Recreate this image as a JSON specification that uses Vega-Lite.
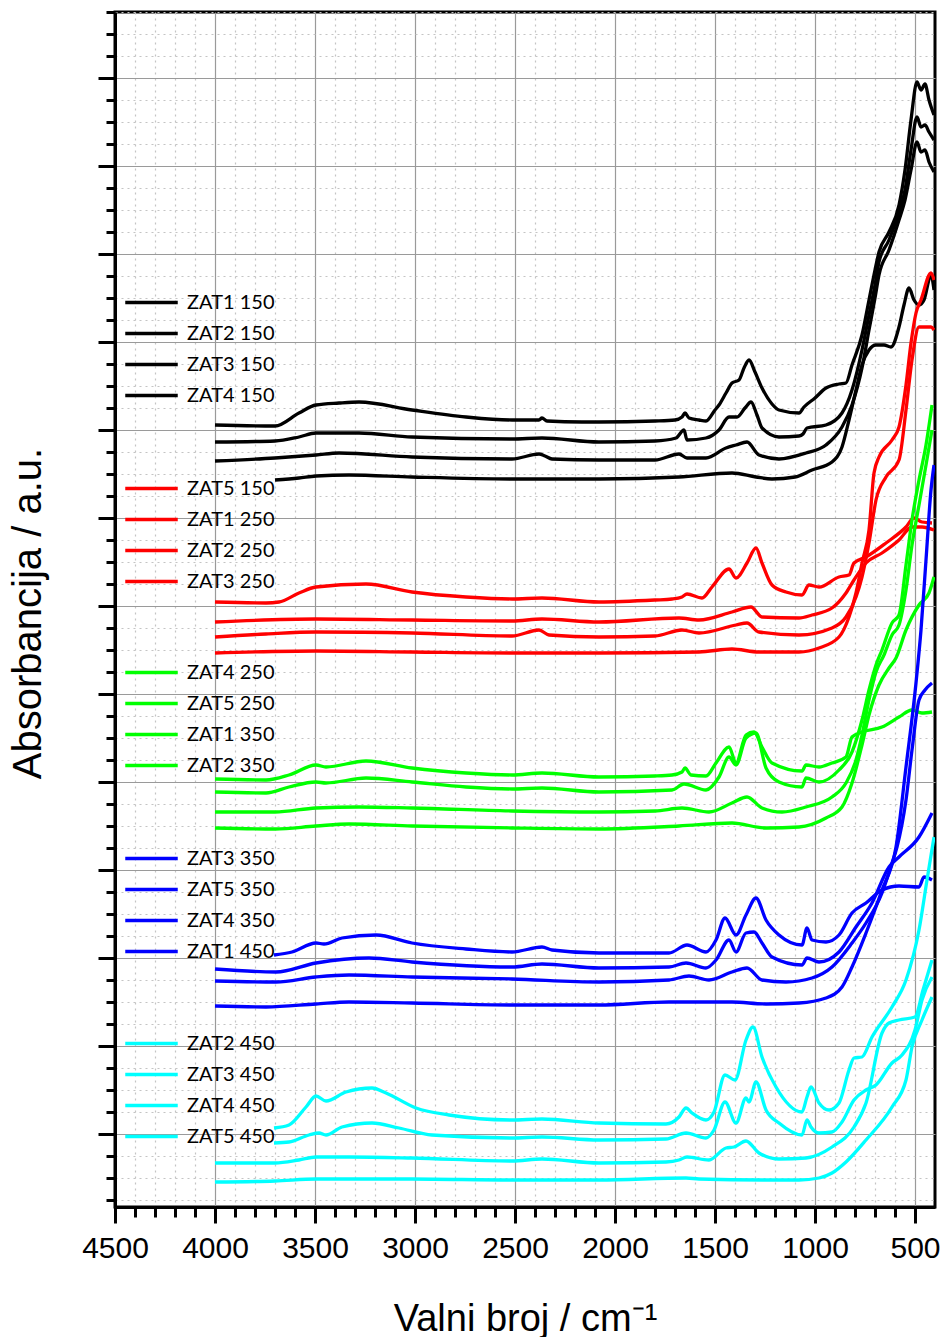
{
"$schema": "https://vega.github.io/schema/vega-lite/v6.json",
"width": 820, "height": 1195,
"autosize": {"type": "none"},
"padding": {"left": 115, "top": 12, "right": 11, "bottom": 130},
"background": "white",
"config": {
  "view": {"stroke": "black", "strokeWidth": 3},
  "font": "Liberation Sans",
  "legend": {"orient": "none", "title": null, "symbolType": "M-2.5,0H2.5", "symbolSize": 441, "symbolStrokeWidth": 3.5, "labelFont": "Lato", "labelFontSize": 20, "labelColor": "black", "rowPadding": 8, "labelOffset": 23, "padding": 0, "legendX": 24}
},
"data": {"values": [
{"s":"ZAT1 150","x":4000,"y":782},{"s":"ZAT1 150","x":3700,"y":781},{"s":"ZAT1 150","x":3580,"y":794},{"s":"ZAT1 150","x":3495,"y":802},{"s":"ZAT1 150","x":3380,"y":804},{"s":"ZAT1 150","x":3280,"y":805},{"s":"ZAT1 150","x":3015,"y":797},{"s":"ZAT1 150","x":2745,"y":790},{"s":"ZAT1 150","x":2515,"y":787},{"s":"ZAT1 150","x":2380,"y":787},{"s":"ZAT1 150","x":2365,"y":789},{"s":"ZAT1 150","x":2340,"y":786},{"s":"ZAT1 150","x":2165,"y":785},{"s":"ZAT1 150","x":2080,"y":785},{"s":"ZAT1 150","x":1800,"y":786},{"s":"ZAT1 150","x":1700,"y":787},{"s":"ZAT1 150","x":1665,"y":790},{"s":"ZAT1 150","x":1650,"y":794},{"s":"ZAT1 150","x":1630,"y":789},{"s":"ZAT1 150","x":1580,"y":787},{"s":"ZAT1 150","x":1545,"y":786},{"s":"ZAT1 150","x":1500,"y":797},{"s":"ZAT1 150","x":1480,"y":802},{"s":"ZAT1 150","x":1445,"y":814},{"s":"ZAT1 150","x":1415,"y":824},{"s":"ZAT1 150","x":1380,"y":827},{"s":"ZAT1 150","x":1355,"y":839},{"s":"ZAT1 150","x":1330,"y":847},{"s":"ZAT1 150","x":1300,"y":835},{"s":"ZAT1 150","x":1265,"y":819},{"s":"ZAT1 150","x":1215,"y":803},{"s":"ZAT1 150","x":1180,"y":797},{"s":"ZAT1 150","x":1080,"y":794},{"s":"ZAT1 150","x":1055,"y":800},{"s":"ZAT1 150","x":1000,"y":809},{"s":"ZAT1 150","x":945,"y":819},{"s":"ZAT1 150","x":880,"y":823},{"s":"ZAT1 150","x":845,"y":824},{"s":"ZAT1 150","x":815,"y":842},{"s":"ZAT1 150","x":765,"y":872},{"s":"ZAT1 150","x":730,"y":907},{"s":"ZAT1 150","x":700,"y":937},{"s":"ZAT1 150","x":680,"y":955},{"s":"ZAT1 150","x":630,"y":975},{"s":"ZAT1 150","x":580,"y":1002},{"s":"ZAT1 150","x":550,"y":1037},{"s":"ZAT1 150","x":520,"y":1087},{"s":"ZAT1 150","x":490,"y":1125},{"s":"ZAT1 150","x":470,"y":1117},{"s":"ZAT1 150","x":450,"y":1123},{"s":"ZAT1 150","x":430,"y":1107},{"s":"ZAT1 150","x":405,"y":1092},
{"s":"ZAT2 150","x":4000,"y":765},{"s":"ZAT2 150","x":3700,"y":766},{"s":"ZAT2 150","x":3580,"y":770},{"s":"ZAT2 150","x":3495,"y":774},{"s":"ZAT2 150","x":3280,"y":774},{"s":"ZAT2 150","x":3015,"y":770},{"s":"ZAT2 150","x":2515,"y":768},{"s":"ZAT2 150","x":2365,"y":769},{"s":"ZAT2 150","x":2080,"y":765},{"s":"ZAT2 150","x":1800,"y":766},{"s":"ZAT2 150","x":1695,"y":769},{"s":"ZAT2 150","x":1655,"y":777},{"s":"ZAT2 150","x":1640,"y":767},{"s":"ZAT2 150","x":1545,"y":769},{"s":"ZAT2 150","x":1480,"y":777},{"s":"ZAT2 150","x":1430,"y":790},{"s":"ZAT2 150","x":1390,"y":790},{"s":"ZAT2 150","x":1350,"y":799},{"s":"ZAT2 150","x":1320,"y":805},{"s":"ZAT2 150","x":1290,"y":792},{"s":"ZAT2 150","x":1265,"y":779},{"s":"ZAT2 150","x":1180,"y":770},{"s":"ZAT2 150","x":1080,"y":771},{"s":"ZAT2 150","x":1060,"y":773},{"s":"ZAT2 150","x":1040,"y":779},{"s":"ZAT2 150","x":945,"y":782},{"s":"ZAT2 150","x":865,"y":794},{"s":"ZAT2 150","x":815,"y":817},{"s":"ZAT2 150","x":765,"y":857},{"s":"ZAT2 150","x":730,"y":892},{"s":"ZAT2 150","x":700,"y":922},{"s":"ZAT2 150","x":680,"y":945},{"s":"ZAT2 150","x":630,"y":967},{"s":"ZAT2 150","x":580,"y":995},{"s":"ZAT2 150","x":550,"y":1017},{"s":"ZAT2 150","x":520,"y":1057},{"s":"ZAT2 150","x":490,"y":1090},{"s":"ZAT2 150","x":470,"y":1080},{"s":"ZAT2 150","x":450,"y":1082},{"s":"ZAT2 150","x":430,"y":1075},{"s":"ZAT2 150","x":405,"y":1067},
{"s":"ZAT3 150","x":4000,"y":746},{"s":"ZAT3 150","x":3700,"y":749},{"s":"ZAT3 150","x":3495,"y":752},{"s":"ZAT3 150","x":3380,"y":754},{"s":"ZAT3 150","x":3015,"y":750},{"s":"ZAT3 150","x":2515,"y":748},{"s":"ZAT3 150","x":2380,"y":753},{"s":"ZAT3 150","x":2350,"y":751},{"s":"ZAT3 150","x":2315,"y":748},{"s":"ZAT3 150","x":2080,"y":747},{"s":"ZAT3 150","x":1800,"y":747},{"s":"ZAT3 150","x":1680,"y":753},{"s":"ZAT3 150","x":1640,"y":749},{"s":"ZAT3 150","x":1545,"y":749},{"s":"ZAT3 150","x":1445,"y":759},{"s":"ZAT3 150","x":1395,"y":762},{"s":"ZAT3 150","x":1340,"y":765},{"s":"ZAT3 150","x":1280,"y":752},{"s":"ZAT3 150","x":1180,"y":748},{"s":"ZAT3 150","x":1045,"y":754},{"s":"ZAT3 150","x":945,"y":762},{"s":"ZAT3 150","x":865,"y":780},{"s":"ZAT3 150","x":815,"y":802},{"s":"ZAT3 150","x":765,"y":839},{"s":"ZAT3 150","x":730,"y":877},{"s":"ZAT3 150","x":700,"y":909},{"s":"ZAT3 150","x":680,"y":932},{"s":"ZAT3 150","x":630,"y":957},{"s":"ZAT3 150","x":580,"y":987},{"s":"ZAT3 150","x":550,"y":1007},{"s":"ZAT3 150","x":520,"y":1037},{"s":"ZAT3 150","x":490,"y":1065},{"s":"ZAT3 150","x":470,"y":1055},{"s":"ZAT3 150","x":450,"y":1057},{"s":"ZAT3 150","x":430,"y":1045},{"s":"ZAT3 150","x":405,"y":1035},
{"s":"ZAT4 150","x":3700,"y":727},{"s":"ZAT4 150","x":3580,"y":729},{"s":"ZAT4 150","x":3495,"y":731},{"s":"ZAT4 150","x":3330,"y":732},{"s":"ZAT4 150","x":3015,"y":730},{"s":"ZAT4 150","x":2515,"y":728},{"s":"ZAT4 150","x":2080,"y":728},{"s":"ZAT4 150","x":1680,"y":730},{"s":"ZAT4 150","x":1415,"y":734},{"s":"ZAT4 150","x":1295,"y":730},{"s":"ZAT4 150","x":1215,"y":728},{"s":"ZAT4 150","x":1100,"y":730},{"s":"ZAT4 150","x":1015,"y":737},{"s":"ZAT4 150","x":915,"y":745},{"s":"ZAT4 150","x":865,"y":760},{"s":"ZAT4 150","x":830,"y":787},{"s":"ZAT4 150","x":795,"y":817},{"s":"ZAT4 150","x":765,"y":842},{"s":"ZAT4 150","x":730,"y":857},{"s":"ZAT4 150","x":695,"y":862},{"s":"ZAT4 150","x":655,"y":862},{"s":"ZAT4 150","x":620,"y":860},{"s":"ZAT4 150","x":580,"y":880},{"s":"ZAT4 150","x":555,"y":902},{"s":"ZAT4 150","x":530,"y":919},{"s":"ZAT4 150","x":505,"y":907},{"s":"ZAT4 150","x":480,"y":902},{"s":"ZAT4 150","x":455,"y":907},{"s":"ZAT4 150","x":420,"y":932},{"s":"ZAT4 150","x":405,"y":917},
{"s":"ZAT5 150","x":4000,"y":605},{"s":"ZAT5 150","x":3745,"y":604},{"s":"ZAT5 150","x":3680,"y":605},{"s":"ZAT5 150","x":3580,"y":614},{"s":"ZAT5 150","x":3495,"y":620},{"s":"ZAT5 150","x":3245,"y":623},{"s":"ZAT5 150","x":3015,"y":615},{"s":"ZAT5 150","x":2745,"y":610},{"s":"ZAT5 150","x":2515,"y":608},{"s":"ZAT5 150","x":2365,"y":609},{"s":"ZAT5 150","x":2080,"y":605},{"s":"ZAT5 150","x":1800,"y":607},{"s":"ZAT5 150","x":1715,"y":608},{"s":"ZAT5 150","x":1665,"y":610},{"s":"ZAT5 150","x":1640,"y":613},{"s":"ZAT5 150","x":1565,"y":609},{"s":"ZAT5 150","x":1515,"y":620},{"s":"ZAT5 150","x":1430,"y":638},{"s":"ZAT5 150","x":1395,"y":629},{"s":"ZAT5 150","x":1340,"y":644},{"s":"ZAT5 150","x":1295,"y":659},{"s":"ZAT5 150","x":1265,"y":644},{"s":"ZAT5 150","x":1215,"y":622},{"s":"ZAT5 150","x":1145,"y":615},{"s":"ZAT5 150","x":1065,"y":612},{"s":"ZAT5 150","x":1030,"y":622},{"s":"ZAT5 150","x":980,"y":620},{"s":"ZAT5 150","x":880,"y":630},{"s":"ZAT5 150","x":830,"y":632},{"s":"ZAT5 150","x":805,"y":644},{"s":"ZAT5 150","x":745,"y":650},{"s":"ZAT5 150","x":645,"y":664},{"s":"ZAT5 150","x":545,"y":680},{"s":"ZAT5 150","x":505,"y":689},{"s":"ZAT5 150","x":465,"y":685},{"s":"ZAT5 150","x":415,"y":684},
{"s":"ZAT1 250","x":4000,"y":585},{"s":"ZAT1 250","x":3495,"y":588},{"s":"ZAT1 250","x":3015,"y":587},{"s":"ZAT1 250","x":2515,"y":586},{"s":"ZAT1 250","x":2365,"y":588},{"s":"ZAT1 250","x":2080,"y":585},{"s":"ZAT1 250","x":1680,"y":589},{"s":"ZAT1 250","x":1580,"y":587},{"s":"ZAT1 250","x":1415,"y":595},{"s":"ZAT1 250","x":1320,"y":600},{"s":"ZAT1 250","x":1265,"y":590},{"s":"ZAT1 250","x":1080,"y":589},{"s":"ZAT1 250","x":1015,"y":592},{"s":"ZAT1 250","x":915,"y":599},{"s":"ZAT1 250","x":845,"y":614},{"s":"ZAT1 250","x":805,"y":627},{"s":"ZAT1 250","x":745,"y":644},{"s":"ZAT1 250","x":665,"y":654},{"s":"ZAT1 250","x":580,"y":667},{"s":"ZAT1 250","x":515,"y":680},{"s":"ZAT1 250","x":465,"y":680},{"s":"ZAT1 250","x":405,"y":677},
{"s":"ZAT2 250","x":4000,"y":570},{"s":"ZAT2 250","x":3745,"y":573},{"s":"ZAT2 250","x":3495,"y":575},{"s":"ZAT2 250","x":3015,"y":574},{"s":"ZAT2 250","x":2515,"y":571},{"s":"ZAT2 250","x":2380,"y":577},{"s":"ZAT2 250","x":2330,"y":572},{"s":"ZAT2 250","x":2080,"y":570},{"s":"ZAT2 250","x":1800,"y":571},{"s":"ZAT2 250","x":1665,"y":577},{"s":"ZAT2 250","x":1580,"y":574},{"s":"ZAT2 250","x":1395,"y":582},{"s":"ZAT2 250","x":1340,"y":584},{"s":"ZAT2 250","x":1280,"y":575},{"s":"ZAT2 250","x":1080,"y":572},{"s":"ZAT2 250","x":915,"y":579},{"s":"ZAT2 250","x":845,"y":590},{"s":"ZAT2 250","x":795,"y":610},{"s":"ZAT2 250","x":765,"y":630},{"s":"ZAT2 250","x":730,"y":664},{"s":"ZAT2 250","x":695,"y":707},{"s":"ZAT2 250","x":645,"y":730},{"s":"ZAT2 250","x":580,"y":747},{"s":"ZAT2 250","x":545,"y":797},{"s":"ZAT2 250","x":515,"y":847},{"s":"ZAT2 250","x":480,"y":880},{"s":"ZAT2 250","x":420,"y":880},{"s":"ZAT2 250","x":405,"y":877},
{"s":"ZAT3 250","x":4000,"y":554},{"s":"ZAT3 250","x":3495,"y":556},{"s":"ZAT3 250","x":3015,"y":555},{"s":"ZAT3 250","x":2515,"y":554},{"s":"ZAT3 250","x":2080,"y":554},{"s":"ZAT3 250","x":1580,"y":555},{"s":"ZAT3 250","x":1415,"y":558},{"s":"ZAT3 250","x":1280,"y":555},{"s":"ZAT3 250","x":1080,"y":555},{"s":"ZAT3 250","x":980,"y":559},{"s":"ZAT3 250","x":880,"y":570},{"s":"ZAT3 250","x":830,"y":590},{"s":"ZAT3 250","x":795,"y":614},{"s":"ZAT3 250","x":765,"y":644},{"s":"ZAT3 250","x":730,"y":677},{"s":"ZAT3 250","x":705,"y":734},{"s":"ZAT3 250","x":680,"y":750},{"s":"ZAT3 250","x":615,"y":767},{"s":"ZAT3 250","x":580,"y":780},{"s":"ZAT3 250","x":545,"y":822},{"s":"ZAT3 250","x":520,"y":864},{"s":"ZAT3 250","x":495,"y":894},{"s":"ZAT3 250","x":470,"y":907},{"s":"ZAT3 250","x":420,"y":934},{"s":"ZAT3 250","x":405,"y":927},
{"s":"ZAT4 250","x":4000,"y":428},{"s":"ZAT4 250","x":3745,"y":427},{"s":"ZAT4 250","x":3630,"y":432},{"s":"ZAT4 250","x":3495,"y":442},{"s":"ZAT4 250","x":3445,"y":440},{"s":"ZAT4 250","x":3245,"y":446},{"s":"ZAT4 250","x":3015,"y":439},{"s":"ZAT4 250","x":2745,"y":434},{"s":"ZAT4 250","x":2515,"y":432},{"s":"ZAT4 250","x":2365,"y":434},{"s":"ZAT4 250","x":2080,"y":430},{"s":"ZAT4 250","x":1800,"y":431},{"s":"ZAT4 250","x":1715,"y":432},{"s":"ZAT4 250","x":1665,"y":435},{"s":"ZAT4 250","x":1650,"y":439},{"s":"ZAT4 250","x":1620,"y":432},{"s":"ZAT4 250","x":1545,"y":431},{"s":"ZAT4 250","x":1495,"y":444},{"s":"ZAT4 250","x":1430,"y":460},{"s":"ZAT4 250","x":1395,"y":444},{"s":"ZAT4 250","x":1345,"y":472},{"s":"ZAT4 250","x":1305,"y":475},{"s":"ZAT4 250","x":1265,"y":460},{"s":"ZAT4 250","x":1215,"y":444},{"s":"ZAT4 250","x":1065,"y":436},{"s":"ZAT4 250","x":1045,"y":442},{"s":"ZAT4 250","x":980,"y":440},{"s":"ZAT4 250","x":915,"y":444},{"s":"ZAT4 250","x":845,"y":450},{"s":"ZAT4 250","x":815,"y":470},{"s":"ZAT4 250","x":765,"y":475},{"s":"ZAT4 250","x":665,"y":480},{"s":"ZAT4 250","x":580,"y":490},{"s":"ZAT4 250","x":515,"y":497},{"s":"ZAT4 250","x":465,"y":494},{"s":"ZAT4 250","x":415,"y":495},
{"s":"ZAT5 250","x":4000,"y":415},{"s":"ZAT5 250","x":3745,"y":414},{"s":"ZAT5 250","x":3630,"y":420},{"s":"ZAT5 250","x":3495,"y":425},{"s":"ZAT5 250","x":3445,"y":424},{"s":"ZAT5 250","x":3245,"y":429},{"s":"ZAT5 250","x":3015,"y":425},{"s":"ZAT5 250","x":2745,"y":420},{"s":"ZAT5 250","x":2515,"y":418},{"s":"ZAT5 250","x":2365,"y":419},{"s":"ZAT5 250","x":2080,"y":415},{"s":"ZAT5 250","x":1715,"y":417},{"s":"ZAT5 250","x":1655,"y":423},{"s":"ZAT5 250","x":1545,"y":417},{"s":"ZAT5 250","x":1480,"y":430},{"s":"ZAT5 250","x":1430,"y":450},{"s":"ZAT5 250","x":1395,"y":442},{"s":"ZAT5 250","x":1345,"y":469},{"s":"ZAT5 250","x":1295,"y":474},{"s":"ZAT5 250","x":1245,"y":439},{"s":"ZAT5 250","x":1180,"y":425},{"s":"ZAT5 250","x":1065,"y":420},{"s":"ZAT5 250","x":1045,"y":429},{"s":"ZAT5 250","x":980,"y":425},{"s":"ZAT5 250","x":880,"y":437},{"s":"ZAT5 250","x":815,"y":455},{"s":"ZAT5 250","x":765,"y":487},{"s":"ZAT5 250","x":730,"y":517},{"s":"ZAT5 250","x":695,"y":542},{"s":"ZAT5 250","x":665,"y":557},{"s":"ZAT5 250","x":615,"y":584},{"s":"ZAT5 250","x":580,"y":592},{"s":"ZAT5 250","x":545,"y":642},{"s":"ZAT5 250","x":515,"y":687},{"s":"ZAT5 250","x":480,"y":727},{"s":"ZAT5 250","x":445,"y":762},{"s":"ZAT5 250","x":415,"y":802},
{"s":"ZAT1 350","x":4000,"y":395},{"s":"ZAT1 350","x":3700,"y":395},{"s":"ZAT1 350","x":3495,"y":399},{"s":"ZAT1 350","x":3280,"y":400},{"s":"ZAT1 350","x":3015,"y":399},{"s":"ZAT1 350","x":2515,"y":396},{"s":"ZAT1 350","x":2080,"y":395},{"s":"ZAT1 350","x":1800,"y":396},{"s":"ZAT1 350","x":1665,"y":399},{"s":"ZAT1 350","x":1530,"y":395},{"s":"ZAT1 350","x":1415,"y":404},{"s":"ZAT1 350","x":1340,"y":410},{"s":"ZAT1 350","x":1265,"y":399},{"s":"ZAT1 350","x":1165,"y":395},{"s":"ZAT1 350","x":1045,"y":400},{"s":"ZAT1 350","x":915,"y":410},{"s":"ZAT1 350","x":845,"y":424},{"s":"ZAT1 350","x":795,"y":447},{"s":"ZAT1 350","x":765,"y":472},{"s":"ZAT1 350","x":730,"y":507},{"s":"ZAT1 350","x":695,"y":535},{"s":"ZAT1 350","x":655,"y":552},{"s":"ZAT1 350","x":615,"y":572},{"s":"ZAT1 350","x":580,"y":582},{"s":"ZAT1 350","x":545,"y":617},{"s":"ZAT1 350","x":515,"y":662},{"s":"ZAT1 350","x":480,"y":702},{"s":"ZAT1 350","x":445,"y":742},{"s":"ZAT1 350","x":415,"y":777},
{"s":"ZAT2 350","x":4000,"y":379},{"s":"ZAT2 350","x":3700,"y":378},{"s":"ZAT2 350","x":3495,"y":381},{"s":"ZAT2 350","x":3330,"y":383},{"s":"ZAT2 350","x":3015,"y":381},{"s":"ZAT2 350","x":2515,"y":379},{"s":"ZAT2 350","x":2080,"y":378},{"s":"ZAT2 350","x":1680,"y":381},{"s":"ZAT2 350","x":1415,"y":384},{"s":"ZAT2 350","x":1245,"y":379},{"s":"ZAT2 350","x":1080,"y":380},{"s":"ZAT2 350","x":945,"y":389},{"s":"ZAT2 350","x":865,"y":400},{"s":"ZAT2 350","x":815,"y":424},{"s":"ZAT2 350","x":765,"y":462},{"s":"ZAT2 350","x":730,"y":492},{"s":"ZAT2 350","x":680,"y":522},{"s":"ZAT2 350","x":630,"y":539},{"s":"ZAT2 350","x":595,"y":549},{"s":"ZAT2 350","x":545,"y":577},{"s":"ZAT2 350","x":480,"y":602},{"s":"ZAT2 350","x":430,"y":614},{"s":"ZAT2 350","x":405,"y":630},
{"s":"ZAT3 350","x":3705,"y":252},{"s":"ZAT3 350","x":3615,"y":255},{"s":"ZAT3 350","x":3495,"y":264},{"s":"ZAT3 350","x":3455,"y":263},{"s":"ZAT3 350","x":3365,"y":269},{"s":"ZAT3 350","x":3195,"y":272},{"s":"ZAT3 350","x":3015,"y":264},{"s":"ZAT3 350","x":2745,"y":258},{"s":"ZAT3 350","x":2515,"y":255},{"s":"ZAT3 350","x":2365,"y":260},{"s":"ZAT3 350","x":2315,"y":257},{"s":"ZAT3 350","x":2080,"y":254},{"s":"ZAT3 350","x":1730,"y":254},{"s":"ZAT3 350","x":1640,"y":262},{"s":"ZAT3 350","x":1545,"y":255},{"s":"ZAT3 350","x":1495,"y":267},{"s":"ZAT3 350","x":1450,"y":289},{"s":"ZAT3 350","x":1395,"y":272},{"s":"ZAT3 350","x":1345,"y":292},{"s":"ZAT3 350","x":1295,"y":309},{"s":"ZAT3 350","x":1245,"y":287},{"s":"ZAT3 350","x":1180,"y":272},{"s":"ZAT3 350","x":1065,"y":262},{"s":"ZAT3 350","x":1040,"y":279},{"s":"ZAT3 350","x":1015,"y":267},{"s":"ZAT3 350","x":945,"y":265},{"s":"ZAT3 350","x":880,"y":272},{"s":"ZAT3 350","x":815,"y":294},{"s":"ZAT3 350","x":745,"y":304},{"s":"ZAT3 350","x":665,"y":317},{"s":"ZAT3 350","x":580,"y":321},{"s":"ZAT3 350","x":480,"y":320},{"s":"ZAT3 350","x":455,"y":330},{"s":"ZAT3 350","x":415,"y":327},
{"s":"ZAT5 350","x":4000,"y":238},{"s":"ZAT5 350","x":3695,"y":235},{"s":"ZAT5 350","x":3495,"y":244},{"s":"ZAT5 350","x":3230,"y":249},{"s":"ZAT5 350","x":3015,"y":245},{"s":"ZAT5 350","x":2515,"y":240},{"s":"ZAT5 350","x":2365,"y":243},{"s":"ZAT5 350","x":2080,"y":239},{"s":"ZAT5 350","x":1730,"y":240},{"s":"ZAT5 350","x":1645,"y":244},{"s":"ZAT5 350","x":1545,"y":239},{"s":"ZAT5 350","x":1495,"y":247},{"s":"ZAT5 350","x":1430,"y":267},{"s":"ZAT5 350","x":1395,"y":255},{"s":"ZAT5 350","x":1345,"y":274},{"s":"ZAT5 350","x":1305,"y":275},{"s":"ZAT5 350","x":1265,"y":264},{"s":"ZAT5 350","x":1215,"y":250},{"s":"ZAT5 350","x":1065,"y":242},{"s":"ZAT5 350","x":1040,"y":249},{"s":"ZAT5 350","x":980,"y":245},{"s":"ZAT5 350","x":880,"y":255},{"s":"ZAT5 350","x":795,"y":280},{"s":"ZAT5 350","x":715,"y":304},{"s":"ZAT5 350","x":630,"y":340},{"s":"ZAT5 350","x":580,"y":350},{"s":"ZAT5 350","x":480,"y":370},{"s":"ZAT5 350","x":415,"y":394},
{"s":"ZAT4 350","x":4000,"y":226},{"s":"ZAT4 350","x":3695,"y":225},{"s":"ZAT4 350","x":3495,"y":230},{"s":"ZAT4 350","x":3330,"y":232},{"s":"ZAT4 350","x":3015,"y":230},{"s":"ZAT4 350","x":2515,"y":228},{"s":"ZAT4 350","x":2080,"y":225},{"s":"ZAT4 350","x":1730,"y":227},{"s":"ZAT4 350","x":1630,"y":231},{"s":"ZAT4 350","x":1530,"y":227},{"s":"ZAT4 350","x":1415,"y":235},{"s":"ZAT4 350","x":1340,"y":239},{"s":"ZAT4 350","x":1265,"y":227},{"s":"ZAT4 350","x":1145,"y":225},{"s":"ZAT4 350","x":1015,"y":229},{"s":"ZAT4 350","x":915,"y":240},{"s":"ZAT4 350","x":815,"y":264},{"s":"ZAT4 350","x":745,"y":284},{"s":"ZAT4 350","x":665,"y":314},{"s":"ZAT4 350","x":615,"y":344},{"s":"ZAT4 350","x":590,"y":360},{"s":"ZAT4 350","x":545,"y":407},{"s":"ZAT4 350","x":515,"y":457},{"s":"ZAT4 350","x":480,"y":507},{"s":"ZAT4 350","x":450,"y":517},{"s":"ZAT4 350","x":415,"y":524},
{"s":"ZAT1 450","x":4000,"y":201},{"s":"ZAT1 450","x":3745,"y":200},{"s":"ZAT1 450","x":3495,"y":203},{"s":"ZAT1 450","x":3330,"y":205},{"s":"ZAT1 450","x":3015,"y":204},{"s":"ZAT1 450","x":2515,"y":202},{"s":"ZAT1 450","x":2080,"y":202},{"s":"ZAT1 450","x":1730,"y":205},{"s":"ZAT1 450","x":1415,"y":205},{"s":"ZAT1 450","x":1245,"y":203},{"s":"ZAT1 450","x":1080,"y":204},{"s":"ZAT1 450","x":945,"y":209},{"s":"ZAT1 450","x":865,"y":220},{"s":"ZAT1 450","x":815,"y":240},{"s":"ZAT1 450","x":745,"y":274},{"s":"ZAT1 450","x":665,"y":317},{"s":"ZAT1 450","x":595,"y":360},{"s":"ZAT1 450","x":545,"y":440},{"s":"ZAT1 450","x":495,"y":524},{"s":"ZAT1 450","x":470,"y":577},{"s":"ZAT1 450","x":445,"y":647},{"s":"ZAT1 450","x":420,"y":717},{"s":"ZAT1 450","x":405,"y":742},
{"s":"ZAT2 450","x":3705,"y":79},{"s":"ZAT2 450","x":3630,"y":82},{"s":"ZAT2 450","x":3545,"y":100},{"s":"ZAT2 450","x":3495,"y":111},{"s":"ZAT2 450","x":3445,"y":106},{"s":"ZAT2 450","x":3345,"y":115},{"s":"ZAT2 450","x":3215,"y":119},{"s":"ZAT2 450","x":3145,"y":114},{"s":"ZAT2 450","x":2995,"y":99},{"s":"ZAT2 450","x":2830,"y":92},{"s":"ZAT2 450","x":2515,"y":87},{"s":"ZAT2 450","x":2365,"y":88},{"s":"ZAT2 450","x":2080,"y":84},{"s":"ZAT2 450","x":1745,"y":83},{"s":"ZAT2 450","x":1680,"y":90},{"s":"ZAT2 450","x":1645,"y":99},{"s":"ZAT2 450","x":1615,"y":94},{"s":"ZAT2 450","x":1545,"y":87},{"s":"ZAT2 450","x":1505,"y":95},{"s":"ZAT2 450","x":1450,"y":132},{"s":"ZAT2 450","x":1400,"y":127},{"s":"ZAT2 450","x":1345,"y":167},{"s":"ZAT2 450","x":1310,"y":180},{"s":"ZAT2 450","x":1265,"y":150},{"s":"ZAT2 450","x":1195,"y":120},{"s":"ZAT2 450","x":1065,"y":95},{"s":"ZAT2 450","x":1040,"y":110},{"s":"ZAT2 450","x":1020,"y":120},{"s":"ZAT2 450","x":980,"y":104},{"s":"ZAT2 450","x":930,"y":97},{"s":"ZAT2 450","x":880,"y":104},{"s":"ZAT2 450","x":830,"y":137},{"s":"ZAT2 450","x":805,"y":149},{"s":"ZAT2 450","x":765,"y":150},{"s":"ZAT2 450","x":715,"y":170},{"s":"ZAT2 450","x":615,"y":200},{"s":"ZAT2 450","x":545,"y":227},{"s":"ZAT2 450","x":480,"y":277},{"s":"ZAT2 450","x":440,"y":327},{"s":"ZAT2 450","x":405,"y":370},
{"s":"ZAT3 450","x":3705,"y":64},{"s":"ZAT3 450","x":3630,"y":65},{"s":"ZAT3 450","x":3530,"y":72},{"s":"ZAT3 450","x":3480,"y":74},{"s":"ZAT3 450","x":3445,"y":72},{"s":"ZAT3 450","x":3365,"y":80},{"s":"ZAT3 450","x":3215,"y":84},{"s":"ZAT3 450","x":3080,"y":79},{"s":"ZAT3 450","x":2915,"y":72},{"s":"ZAT3 450","x":2515,"y":69},{"s":"ZAT3 450","x":2365,"y":70},{"s":"ZAT3 450","x":2080,"y":67},{"s":"ZAT3 450","x":1745,"y":68},{"s":"ZAT3 450","x":1645,"y":74},{"s":"ZAT3 450","x":1545,"y":69},{"s":"ZAT3 450","x":1505,"y":77},{"s":"ZAT3 450","x":1450,"y":105},{"s":"ZAT3 450","x":1395,"y":84},{"s":"ZAT3 450","x":1345,"y":109},{"s":"ZAT3 450","x":1330,"y":105},{"s":"ZAT3 450","x":1295,"y":125},{"s":"ZAT3 450","x":1245,"y":97},{"s":"ZAT3 450","x":1180,"y":84},{"s":"ZAT3 450","x":1065,"y":72},{"s":"ZAT3 450","x":1040,"y":87},{"s":"ZAT3 450","x":1020,"y":80},{"s":"ZAT3 450","x":980,"y":74},{"s":"ZAT3 450","x":915,"y":75},{"s":"ZAT3 450","x":865,"y":85},{"s":"ZAT3 450","x":805,"y":107},{"s":"ZAT3 450","x":745,"y":117},{"s":"ZAT3 450","x":695,"y":122},{"s":"ZAT3 450","x":615,"y":144},{"s":"ZAT3 450","x":565,"y":152},{"s":"ZAT3 450","x":500,"y":177},{"s":"ZAT3 450","x":465,"y":207},{"s":"ZAT3 450","x":415,"y":230},
{"s":"ZAT4 450","x":4000,"y":44},{"s":"ZAT4 450","x":3700,"y":44},{"s":"ZAT4 450","x":3580,"y":47},{"s":"ZAT4 450","x":3495,"y":50},{"s":"ZAT4 450","x":3330,"y":50},{"s":"ZAT4 450","x":3015,"y":49},{"s":"ZAT4 450","x":2515,"y":46},{"s":"ZAT4 450","x":2365,"y":48},{"s":"ZAT4 450","x":2080,"y":44},{"s":"ZAT4 450","x":1745,"y":45},{"s":"ZAT4 450","x":1680,"y":47},{"s":"ZAT4 450","x":1640,"y":50},{"s":"ZAT4 450","x":1530,"y":47},{"s":"ZAT4 450","x":1445,"y":59},{"s":"ZAT4 450","x":1405,"y":60},{"s":"ZAT4 450","x":1345,"y":66},{"s":"ZAT4 450","x":1280,"y":54},{"s":"ZAT4 450","x":1180,"y":48},{"s":"ZAT4 450","x":1045,"y":49},{"s":"ZAT4 450","x":915,"y":60},{"s":"ZAT4 450","x":805,"y":80},{"s":"ZAT4 450","x":745,"y":104},{"s":"ZAT4 450","x":665,"y":174},{"s":"ZAT4 450","x":630,"y":184},{"s":"ZAT4 450","x":580,"y":187},{"s":"ZAT4 450","x":500,"y":190},{"s":"ZAT4 450","x":460,"y":217},{"s":"ZAT4 450","x":415,"y":247},
{"s":"ZAT5 450","x":4000,"y":25},{"s":"ZAT5 450","x":3700,"y":26},{"s":"ZAT5 450","x":3495,"y":28},{"s":"ZAT5 450","x":3015,"y":28},{"s":"ZAT5 450","x":2515,"y":27},{"s":"ZAT5 450","x":2080,"y":27},{"s":"ZAT5 450","x":1645,"y":29},{"s":"ZAT5 450","x":1580,"y":28},{"s":"ZAT5 450","x":1245,"y":27},{"s":"ZAT5 450","x":1080,"y":27},{"s":"ZAT5 450","x":980,"y":29},{"s":"ZAT5 450","x":915,"y":34},{"s":"ZAT5 450","x":845,"y":45},{"s":"ZAT5 450","x":745,"y":67},{"s":"ZAT5 450","x":615,"y":100},{"s":"ZAT5 450","x":545,"y":127},{"s":"ZAT5 450","x":515,"y":160},{"s":"ZAT5 450","x":465,"y":187},{"s":"ZAT5 450","x":415,"y":210}
]},
"encoding": {
  "x": {"field": "x", "type": "quantitative",
    "scale": {"domain": [4500, 400], "nice": false, "zero": false},
    "axis": {"title": "Valni broj / cm⁻¹", "titleFont": "Liberation Sans", "titleFontSize": 38, "titleFontWeight": "normal", "titleColor": "black",
      "titleX": 410, "titleY": 123, "titleBaseline": "alphabetic", "titleAlign": "center",
      "values": [500,600,700,800,900,1000,1100,1200,1300,1400,1500,1600,1700,1800,1900,2000,2100,2200,2300,2400,2500,2600,2700,2800,2900,3000,3100,3200,3300,3400,3500,3600,3700,3800,3900,4000,4100,4200,4300,4400,4500],
      "labelExpr": "datum.value % 500 === 0 ? '' + datum.value : ''",
      "labelFont": "Liberation Sans", "labelFontSize": 30, "labelColor": "black", "labelPadding": 10, "labelFlush": false, "labelOverlap": false,
      "tickSize": {"condition": {"test": "datum.value % 500 === 0", "value": 16}, "value": 10},
      "tickWidth": 3, "tickColor": "black", "domainColor": "black", "domainWidth": 3,
      "grid": true,
      "gridColor": {"condition": {"test": "datum.value % 500 === 0", "value": "#9a9a9a"}, "value": "#c4c4c4"},
      "gridDash": {"condition": {"test": "datum.value % 500 === 0", "value": []}, "value": [2, 4]},
      "gridWidth": 1.2}
  },
  "y": {"field": "y", "type": "quantitative",
    "scale": {"domain": [0, 1195], "nice": false, "zero": false},
    "axis": {"title": "Absorbancija / a.u.", "titleFont": "Liberation Sans", "titleFontSize": 40, "titleFontWeight": "normal", "titleColor": "black",
      "titleX": -75, "titleY": 601, "titleBaseline": "alphabetic", "titleAlign": "center", "titleAngle": -90,
      "values": [7,29,51,73,95,117,139,161,183,205,227,249,271,293,315,337,359,381,403,425,447,469,491,513,535,557,579,601,623,645,667,689,711,733,755,777,799,821,843,865,887,909,931,953,975,997,1019,1041,1063,1085,1107,1129,1151,1173,1195],
      "labels": false,
      "tickSize": {"condition": {"test": "(datum.value - 73) % 88 === 0", "value": 17}, "value": 9},
      "tickWidth": 3, "tickColor": "black", "domainColor": "black", "domainWidth": 3,
      "grid": true,
      "gridColor": {"condition": {"test": "(datum.value - 73) % 88 === 0", "value": "#9a9a9a"}, "value": "#c4c4c4"},
      "gridDash": {"condition": {"test": "(datum.value - 73) % 88 === 0", "value": []}, "value": [2, 4]},
      "gridWidth": 1.2}
  }
},
"layer": [
  {"transform": [{"filter": {"field": "s", "oneOf": ["ZAT1 150","ZAT2 150","ZAT3 150","ZAT4 150"]}}],
   "mark": {"type": "line", "strokeWidth": 3.3, "clip": true, "strokeJoin": "round", "interpolate": "monotone"},
   "encoding": {"color": {"field": "s", "type": "nominal", "scale": {"domain": ["ZAT1 150","ZAT2 150","ZAT3 150","ZAT4 150"], "range": ["#000000","#000000","#000000","#000000"]}, "legend": {"legendY": 278}}}},
  {"transform": [{"filter": {"field": "s", "oneOf": ["ZAT5 150","ZAT1 250","ZAT2 250","ZAT3 250"]}}],
   "mark": {"type": "line", "strokeWidth": 3.3, "clip": true, "strokeJoin": "round", "interpolate": "monotone"},
   "encoding": {"color": {"field": "s", "type": "nominal", "scale": {"domain": ["ZAT5 150","ZAT1 250","ZAT2 250","ZAT3 250"], "range": ["#ff0000","#ff0000","#ff0000","#ff0000"]}, "legend": {"legendY": 464}}}},
  {"transform": [{"filter": {"field": "s", "oneOf": ["ZAT4 250","ZAT5 250","ZAT1 350","ZAT2 350"]}}],
   "mark": {"type": "line", "strokeWidth": 3.3, "clip": true, "strokeJoin": "round", "interpolate": "monotone"},
   "encoding": {"color": {"field": "s", "type": "nominal", "scale": {"domain": ["ZAT4 250","ZAT5 250","ZAT1 350","ZAT2 350"], "range": ["#00ff00","#00ff00","#00ff00","#00ff00"]}, "legend": {"legendY": 648}}}},
  {"transform": [{"filter": {"field": "s", "oneOf": ["ZAT3 350","ZAT5 350","ZAT4 350","ZAT1 450"]}}],
   "mark": {"type": "line", "strokeWidth": 3.3, "clip": true, "strokeJoin": "round", "interpolate": "monotone"},
   "encoding": {"color": {"field": "s", "type": "nominal", "scale": {"domain": ["ZAT3 350","ZAT5 350","ZAT4 350","ZAT1 450"], "range": ["#0000ff","#0000ff","#0000ff","#0000ff"]}, "legend": {"legendY": 834}}}},
  {"transform": [{"filter": {"field": "s", "oneOf": ["ZAT2 450","ZAT3 450","ZAT4 450","ZAT5 450"]}}],
   "mark": {"type": "line", "strokeWidth": 3.3, "clip": true, "strokeJoin": "round", "interpolate": "monotone"},
   "encoding": {"color": {"field": "s", "type": "nominal", "scale": {"domain": ["ZAT2 450","ZAT3 450","ZAT4 450","ZAT5 450"], "range": ["#00ffff","#00ffff","#00ffff","#00ffff"]}, "legend": {"legendY": 1019}}}}
],
"resolve": {"scale": {"color": "independent"}}
}
